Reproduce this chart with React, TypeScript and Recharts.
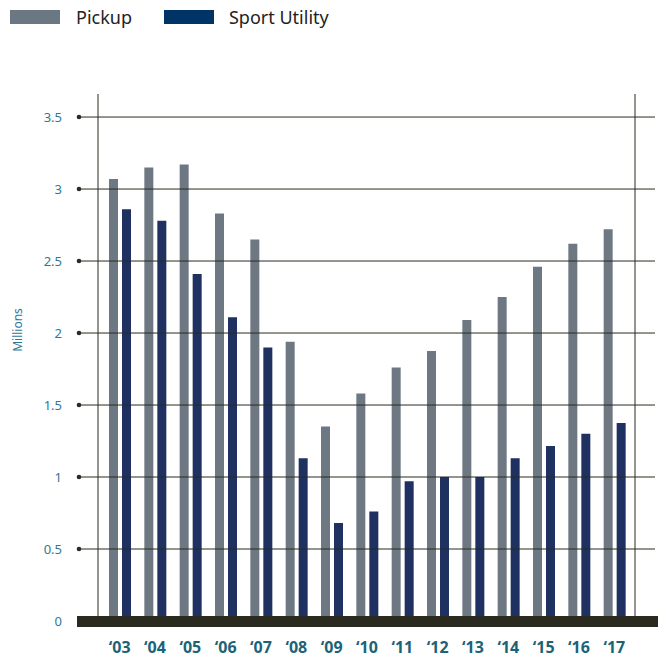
import { BarChart, Bar, XAxis, YAxis } from "recharts";

const years = ["‘03", "‘04", "‘05", "‘06", "‘07", "‘08", "‘09", "‘10", "‘11", "‘12", "‘13", "‘14", "‘15", "‘16", "‘17"];
const pickup = [3.07, 3.15, 3.17, 2.83, 2.65, 1.94, 1.35, 1.58, 1.76, 1.875, 2.09, 2.25, 2.46, 2.62, 2.72];
const sportUtility = [2.86, 2.78, 2.41, 2.11, 1.9, 1.13, 0.68, 0.76, 0.97, 1.0, 1.0, 1.13, 1.215, 1.3, 1.375];
const yTicks = [0, 0.5, 1, 1.5, 2, 2.5, 3, 3.5];

const data = years.map((year, i) => ({ year, pickup: pickup[i], suv: sportUtility[i] }));

const font = "'Noto Sans', 'Open Sans', sans-serif";
const ink = "#2b2a1f";

function YTick(props: any) {
  const { y, payload } = props;
  if (payload.value === 0) {
    return (
      <g>
        <rect x={77} y={y - 5} width={581} height={11} fill={ink} />
        <text x={62} y={y} textAnchor="end" dominantBaseline="central" fontSize={13} fill="#2f7896" fontFamily={font}>
          0
        </text>
      </g>
    );
  }
  return (
    <g>
      <line x1={79} x2={655} y1={y} y2={y} stroke={ink} strokeWidth={1} />
      <circle cx={79} cy={y} r={2.3} fill={ink} />
      <text x={62} y={y} textAnchor="end" dominantBaseline="central" fontSize={13} fill="#2f7896" fontFamily={font}>
        {payload.value}
      </text>
    </g>
  );
}

function XTick(props: any) {
  const { x, y, payload } = props;
  return (
    <text x={x} y={y + 18} textAnchor="middle" dominantBaseline="central" fontSize={16} fontWeight={700} fill="#1b6377" fontFamily={font}>
      {payload.value}
    </text>
  );
}

export default function App() {
  return (
    <div style={{ position: "absolute", left: 0, top: 0, width: 658, height: 658, background: "#fff", fontFamily: font }}>
      <div style={{ position: "absolute", left: 10, top: 5, display: "flex", alignItems: "center", fontSize: 18, color: "#222" }}>
        <span style={{ display: "inline-block", width: 50, height: 14, background: "#6b7782" }} />
        <span style={{ marginLeft: 16 }}>Pickup</span>
        <span style={{ display: "inline-block", width: 50, height: 14, background: "#003366", marginLeft: 32 }} />
        <span style={{ marginLeft: 15 }}>Sport Utility</span>
      </div>
      <div style={{ position: "absolute", left: 0, top: 0 }}>
        <BarChart
          width={658}
          height={658}
          data={data}
          margin={{ top: 94, right: 0, left: 0, bottom: 7 }}
          barSize={9}
          barGap={4}
        >
          <XAxis
            dataKey="year"
            height={30}
            axisLine={false}
            tickLine={false}
            padding={{ left: 4, right: 3 }}
            tick={<XTick />}
            interval={0}
          />
          <YAxis
            yAxisId="l"
            width={98}
            domain={[0, 3.66]}
            ticks={yTicks}
            axisLine={{ stroke: ink, strokeWidth: 1 }}
            tickLine={false}
            tick={<YTick />}
          />
          <YAxis
            yAxisId="r"
            orientation="right"
            width={23}
            domain={[0, 3.66]}
            ticks={yTicks}
            axisLine={{ stroke: ink, strokeWidth: 1 }}
            tickLine={false}
            tick={false}
          />
          <Bar yAxisId="l" dataKey="pickup" fill="#6e7883" isAnimationActive={false} />
          <Bar yAxisId="l" dataKey="suv" fill="#1f3161" isAnimationActive={false} />
        </BarChart>
      </div>
      <div
        style={{
          position: "absolute",
          left: 17,
          top: 330,
          transform: "translate(-50%, -50%) rotate(-90deg)",
          fontSize: 12,
          color: "#2f7896",
          whiteSpace: "nowrap",
        }}
      >
        Millions
      </div>
    </div>
  );
}
